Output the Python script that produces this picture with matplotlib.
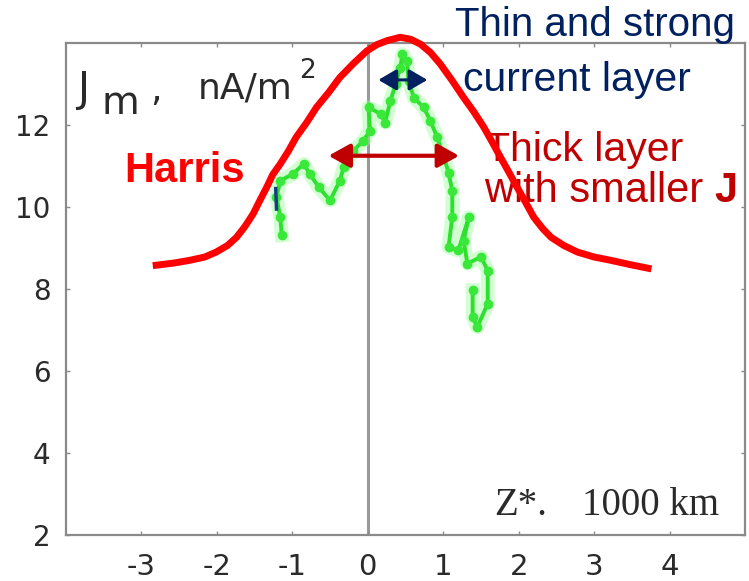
import matplotlib
matplotlib.use("Agg")
import matplotlib.pyplot as plt

# Z* (1000 km) and current density (nA/m^2)
harris_z = [-2.85, -2.58, -2.36, -2.16, -2.01, -1.86, -1.74, -1.63, -1.52, -1.43, -1.34, -1.26,
            -1.16, -1.05, -0.95, -0.81, -0.68, -0.52, -0.37, -0.19, -0.01, 0.12, 0.26, 0.43,
            0.57, 0.70, 0.83, 0.96, 1.12, 1.27, 1.41, 1.54, 1.65, 1.76, 1.87, 1.98, 2.09,
            2.20, 2.32, 2.43, 2.60, 2.78, 3.00, 3.22, 3.49, 3.76]
harris_j = [8.57, 8.63, 8.70, 8.78, 8.90, 9.06, 9.26, 9.52, 9.83, 10.16, 10.48, 10.79,
            11.05, 11.37, 11.70, 12.06, 12.43, 12.79, 13.16, 13.50, 13.81, 13.96, 14.06, 14.14,
            14.09, 13.97, 13.77, 13.49, 13.08, 12.67, 12.31, 11.94, 11.58, 11.21, 10.85, 10.48,
            10.12, 9.75, 9.47, 9.26, 9.06, 8.90, 8.78, 8.70, 8.59, 8.49]

obs_z = [-1.14, -1.16, -1.21, -1.16, -0.99, -0.85, -0.77, -0.65, -0.50, -0.37, -0.32, -0.19,
         -0.06, 0.03, 0.01, 0.17, 0.23, 0.30, 0.37, 0.43, 0.46, 0.52, 0.54, 0.61, 0.74, 0.83,
         0.92, 1.01, 1.07, 1.12, 1.12, 1.07, 1.20, 1.34, 1.27, 1.32, 1.50, 1.59, 1.59, 1.45,
         1.39, 1.39]
obs_j = [9.31, 9.75, 10.24, 10.64, 10.81, 11.05, 10.81, 10.48, 10.16, 10.64, 10.97, 11.37,
         11.62, 11.86, 12.43, 12.27, 12.06, 12.59, 13.00, 13.40, 13.73, 13.57, 13.08, 12.67,
         12.43, 12.10, 11.70, 11.21, 10.84, 10.40, 9.75, 9.02, 8.94, 9.75, 9.18, 8.62, 8.78,
         8.45, 7.64, 7.07, 7.32, 7.97]

# short dark-blue streak in the observed trace
streak_z = [-1.22, -1.21]
streak_j = [10.45, 9.95]

x_ticks = [-3, -2, -1, 0, 1, 2, 3, 4]
x_labels = ["-3", "-2", "-1", "0", "1", "2", "3", "4"]
y_ticks = [2, 4, 6, 8, 10, 12]
y_labels = ["2", "4", "6", "8", "10", "12"]

# thin (navy) and thick (dark red) layer widths: z0, z1, level
thin_span = (0.14, 0.79, 13.10)
thick_span = (-0.52, 1.21, 11.25)

NAVY = "#002060"
DARK_RED = "#c00000"
GRAY = "#8a8a8a"
TEXT_GRAY = "#2a2a2a"

fig = plt.figure(figsize=(7.49, 5.81), dpi=100)
ax = fig.add_axes([66 / 749, 1 - 535 / 581, (745 - 66) / 749, (535 - 43) / 581])
ax.set_xlim(-4, 5)
ax.set_ylim(2, 14)

for sp in ax.spines.values():
    sp.set_color(GRAY)
    sp.set_linewidth(1.6)

ax.set_xticks(x_ticks)
ax.set_xticklabels(x_labels)
ax.set_yticks(y_ticks)
ax.set_yticklabels(y_labels)
ax.tick_params(axis="both", direction="in", length=3, width=1, color=GRAY,
               top=True, right=True, labelcolor=TEXT_GRAY)
ax.tick_params(axis="x", pad=13, labelsize=21)
ax.tick_params(axis="y", pad=11, labelsize=20)

ax.axvline(0, color="#9a9a9a", lw=2.2, zorder=1)

# observed profile: soft glow + line + dots
ax.plot(obs_z, obs_j, color="#9cff9c", lw=10, alpha=0.45, solid_joinstyle="round", zorder=2)
ax.plot(obs_z, obs_j, color="#2ee02e", lw=2.8, marker="o", ms=6, mfc="#3ae83a",
        mec="#3ae83a", zorder=3)
ax.plot(streak_z, streak_j, color="#1a3a8a", lw=2.5, zorder=3)

# Harris profile
ax.plot(harris_z, harris_j, color="#ff0000", lw=5, solid_joinstyle="round",
        solid_capstyle="butt", clip_on=False, zorder=6)

# width arrows
ax.annotate("", xy=(thin_span[0], thin_span[2]), xytext=(thin_span[1], thin_span[2]),
            arrowprops=dict(arrowstyle="<|-|>,head_length=0.55,head_width=0.32",
                            mutation_scale=20, lw=2.2, color=NAVY,
                            shrinkA=0, shrinkB=0), zorder=5)
ax.annotate("", xy=(thick_span[0], thick_span[2]), xytext=(thick_span[1], thick_span[2]),
            arrowprops=dict(arrowstyle="<|-|>,head_length=0.65,head_width=0.36",
                            mutation_scale=20, lw=3, color=DARK_RED,
                            shrinkA=0, shrinkB=0), zorder=5)

# y label "J_m, nA/m^2"
lab = dict(color=TEXT_GRAY, family="DejaVu Sans", va="baseline")
ax.text(-3.85, 12.59, "J", fontsize=29, **lab)
ax.text(-3.53, 12.28, "m", fontsize=28, **lab)
ax.text(-2.88, 12.59, ",", fontsize=26, **lab)
unit = ax.text(-2.26, 12.64, "nA/m", fontsize=26, **lab)
ax.annotate("2", xy=(1, 1), xycoords=unit, xytext=(5, -9), textcoords="offset points",
            fontsize=19, color=TEXT_GRAY, family="DejaVu Sans", va="bottom", ha="left")

ax.text(-3.23, 10.60, "Harris", fontsize=30, color="#ff0000", fontweight="bold",
        family="Liberation Sans", va="baseline", zorder=4)

ax.text(1.16, 14.17, "Thin and strong", fontsize=29, color=NAVY, family="Liberation Sans",
        va="baseline", clip_on=False, zorder=4)
ax.text(1.26, 12.84, "current layer", fontsize=29.5, color=NAVY, family="Liberation Sans",
        va="baseline", zorder=4)

ax.text(1.56, 11.13, "Thick layer", fontsize=29.5, color=DARK_RED, family="Liberation Sans",
        va="baseline", zorder=4)
smaller = ax.text(1.54, 9.91, "with smaller", fontsize=30, color=DARK_RED,
                  family="Liberation Sans", va="bottom", zorder=4)
ax.annotate("J", xy=(1, 0), xycoords=smaller, xytext=(8, 0), textcoords="offset points",
            fontsize=30, color=DARK_RED, fontweight="bold", family="Liberation Sans",
            va="bottom", ha="left", annotation_clip=False, zorder=4)

ax.text(1.67, 2.49, "Z*.", fontsize=28, color=TEXT_GRAY, family="Liberation Serif",
        va="baseline")
ax.text(2.84, 2.49, "1000 km", fontsize=28, color=TEXT_GRAY, family="Liberation Serif",
        va="baseline")

fig.savefig("out.png", dpi=100)
